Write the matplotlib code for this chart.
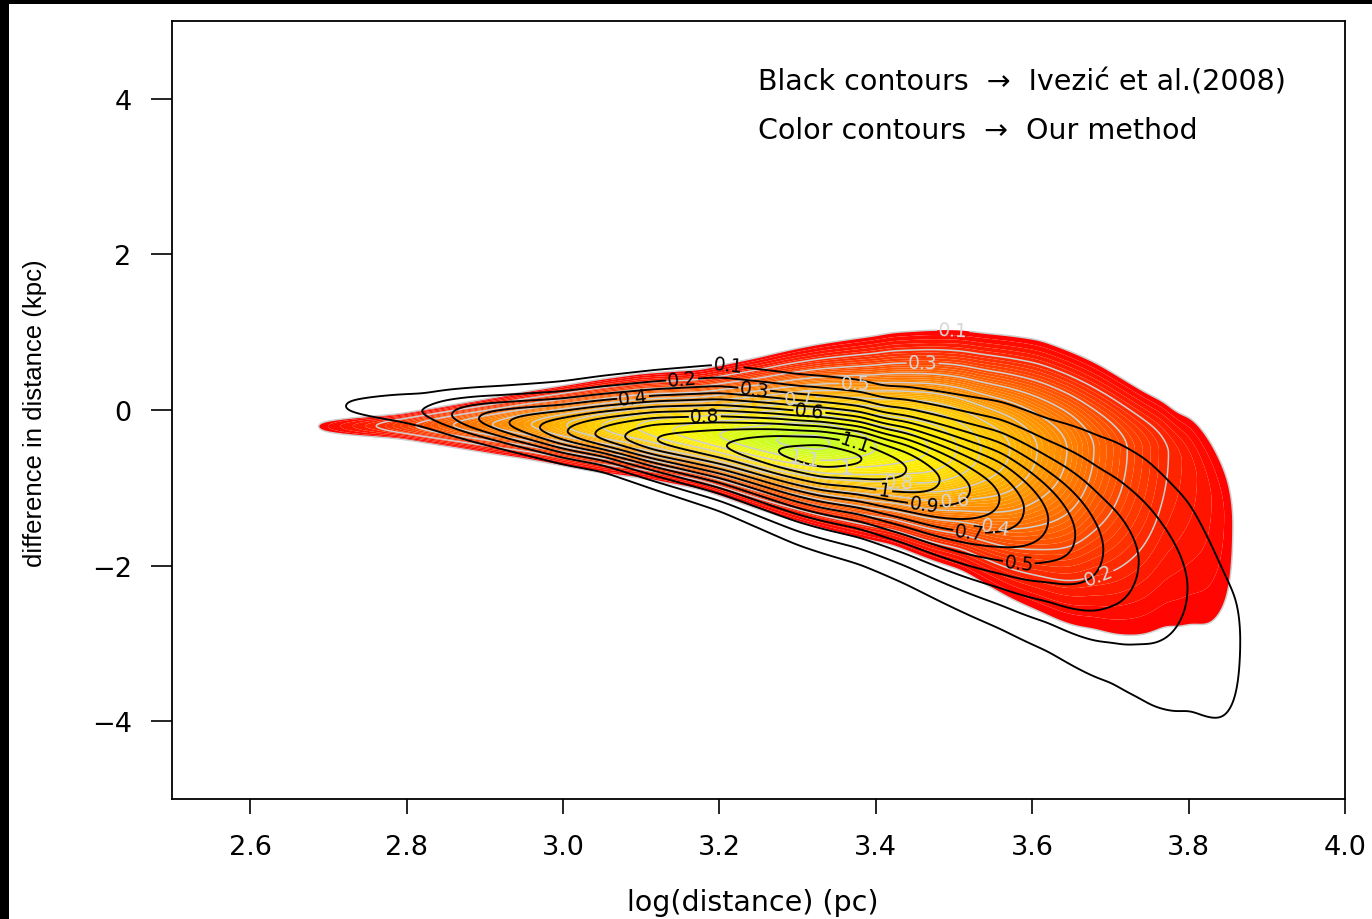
import numpy as np
import matplotlib
matplotlib.use("Agg")
import matplotlib.pyplot as plt
from matplotlib.colors import LinearSegmentedColormap, Normalize
from matplotlib.patches import Rectangle

# ---- Ivezic et al. (2008) density: ridge profile (black contours) ----
ive_amp_x = [2.680, 2.719, 2.824, 2.892, 2.971, 3.041, 3.118, 3.211, 3.274, 3.330,
             3.384, 3.440, 3.482, 3.559, 3.620, 3.690, 3.735, 3.798, 3.850, 3.872, 3.885]
ive_amp = [0.00, 0.10, 0.20, 0.40, 0.60, 0.80, 1.00, 1.10, 1.20, 1.25,
           1.20, 1.10, 1.00, 0.80, 0.60, 0.40, 0.30, 0.20, 0.13, 0.10, 0.00]
ive_ctr_x = [2.70, 2.79, 2.85, 2.92, 3.00, 3.10, 3.20, 3.30, 3.38, 3.44, 3.48,
             3.52, 3.56, 3.59, 3.62, 3.65, 3.69, 3.74, 3.80, 3.85, 3.90]
ive_ctr = [0.06, 0.02, -0.05, -0.15, -0.27, -0.36, -0.45, -0.55, -0.62, -0.76, -0.89,
           -1.02, -1.14, -1.27, -1.40, -1.57, -1.80, -1.95, -2.26, -2.95, -3.00]
ive_wid_x = [2.70, 2.79, 2.92, 3.05, 3.20, 3.30, 3.41, 3.53, 3.62, 3.70, 3.75, 3.79, 3.85, 3.90]
ive_wid_up = [0.22, 0.25, 0.37, 0.52, 0.67, 0.64, 0.64, 0.82, 0.96, 1.26, 1.32, 1.30, 1.40, 1.40]
ive_wid_dn = [0.20, 0.23, 0.28, 0.33, 0.55, 0.75, 0.91, 1.11, 1.27, 1.44, 1.77, 1.92, 1.90, 1.90]

# ---- our method density: ridge profile (colour contours) ----
our_amp_x = [2.660, 2.683, 2.763, 2.860, 2.960, 3.050, 3.140, 3.200, 3.280, 3.330, 3.400,
             3.470, 3.504, 3.533, 3.572, 3.606, 3.645, 3.678, 3.721, 3.772, 3.830, 3.862, 3.880]
our_amp = [0.00, 0.10, 0.20, 0.40, 0.60, 0.80, 1.00, 1.10, 1.21, 1.22, 1.10,
           1.00, 0.90, 0.80, 0.70, 0.60, 0.50, 0.40, 0.30, 0.20, 0.14, 0.10, 0.00]
our_ctr_x = [2.68, 2.79, 2.95, 3.10, 3.25, 3.40, 3.55, 3.70, 3.77, 3.80, 3.83, 3.87]
our_ctr = [-0.21, -0.20, -0.18, -0.22, -0.37, -0.48, -0.50, -0.50, -0.52, -0.70, -1.20, -1.60]
our_wid_x = [2.68, 2.79, 2.92, 3.05, 3.175, 3.30, 3.42, 3.51, 3.61, 3.68, 3.75, 3.79, 3.83, 3.87]
our_wid_up = [0.15, 0.154, 0.28, 0.42, 0.53, 0.76, 0.96, 1.03, 1.05, 0.95, 0.75, 0.72, 1.30, 1.40]
our_wid_dn = [0.17, 0.174, 0.31, 0.42, 0.47, 0.65, 0.81, 1.06, 1.57, 1.97, 2.49, 2.80, 2.67, 2.60]

levels = [0.1, 0.2, 0.3, 0.4, 0.5, 0.6, 0.7, 0.8, 0.9, 1.0, 1.1, 1.2]

# label anchor points (log distance, difference) per contour level
ive_labels = {0.1: (3.211, 0.58), 0.2: (3.154, 0.27), 0.3: (3.242, 0.14),
              0.4: (3.092, 0.03), 0.6: (3.313, -0.17), 0.8: (3.182, -0.22),
              1.1: (3.371, -0.48), 1.0: (3.412, -0.98), 0.9: (3.463, -1.14),
              0.7: (3.521, -1.47), 0.5: (3.585, -1.85)}
our_labels = {0.1: (3.499, 1.02), 0.3: (3.46, 0.50), 0.5: (3.374, 0.24),
              0.7: (3.303, 0.10), 1.1: (3.312, -0.50), 1.0: (3.363, -0.63),
              0.8: (3.431, -0.76), 0.6: (3.499, -0.99), 0.4: (3.559, -1.27),
              0.2: (3.678, -1.98)}

# fill colour for each density level
fill_color_levels = [0.10, 0.20, 0.40, 0.60, 0.80, 1.00, 1.20, 1.25]
fill_colors = ["#FF0000", "#FF2800", "#FF6A00", "#FFA000", "#FFD200", "#FFF200",
               "#C8FF28", "#C0FF30"]

x_ticks = [2.6, 2.8, 3.0, 3.2, 3.4, 3.6, 3.8, 4.0]
y_ticks = [-4, -2, 0, 2, 4]

gx = np.linspace(2.60, 3.95, 900)
gy = np.linspace(-4.6, 1.6, 800)


def smooth(v, sigma_pts=6):
    k = np.arange(-4 * sigma_pts, 4 * sigma_pts + 1)
    w = np.exp(-0.5 * (k / sigma_pts) ** 2)
    w /= w.sum()
    pad = len(k) // 2
    vp = np.concatenate([np.full(pad, v[0]), v, np.full(pad, v[-1])])
    return np.convolve(vp, w, mode="valid")


def ridge_density(ax_, a_, cx_, c_, sx_, su_, sd_):
    amp = smooth(np.interp(gx, ax_, a_, left=0.0, right=0.0))
    ctr = smooth(np.interp(gx, cx_, c_))
    su = smooth(np.interp(gx, sx_, su_))
    sd = smooth(np.interp(gx, sx_, sd_))
    Y = gy[:, None]
    s = np.where(Y > ctr[None, :], su[None, :], sd[None, :])
    return amp[None, :] * np.exp(-((Y - ctr[None, :]) / s) ** 2)


dens_ive = ridge_density(ive_amp_x, ive_amp, ive_ctr_x, ive_ctr, ive_wid_x, ive_wid_up, ive_wid_dn)
dens_our = ridge_density(our_amp_x, our_amp, our_ctr_x, our_ctr, our_wid_x, our_wid_up, our_wid_dn)


def fmt(v):
    return f"{v:g}"


def labelled_contours(ax, dens, label_pos, line_color, text_color, lw):
    for lev in levels:
        cs = ax.contour(gx, gy, dens, levels=[lev], colors=line_color, linewidths=lw)
        if lev in label_pos:
            ax.clabel(cs, manual=[label_pos[lev]], fmt=fmt, inline=True,
                      inline_spacing=3, fontsize=13.5, colors=text_color)


fig = plt.figure(figsize=(13.72, 9.2), dpi=100)
fig.patch.set_facecolor("white")
plt.rcParams["font.family"] = ["DejaVu Sans"]
ax = fig.add_axes([172 / 1372, 1 - 800 / 920, (1345 - 172) / 1372, (800 - 22) / 920])

lo, hi = fill_color_levels[0], fill_color_levels[-1]
heat = LinearSegmentedColormap.from_list(
    "heat", [((v - lo) / (hi - lo), c) for v, c in zip(fill_color_levels, fill_colors)])
fill_levels = np.linspace(0.1, 1.3, 61)
ax.contourf(gx, gy, dens_our, levels=fill_levels, cmap=heat,
            norm=Normalize(lo, hi), antialiased=True)

labelled_contours(ax, dens_our, our_labels, "#cfcfcf", "#d6d6d6", 1.1)
labelled_contours(ax, dens_ive, ive_labels, "black", "black", 1.35)

ax.set_xlim(2.5, 4.0)
ax.set_ylim(-5, 5)
ax.set_xticks(x_ticks)
ax.set_xticklabels([f"{t:.1f}" for t in x_ticks])
ax.set_yticks(y_ticks)
ax.set_yticklabels(["\u22124", "\u22122", "0", "2", "4"])
for sp in ax.spines.values():
    sp.set_linewidth(1.3)
ax.tick_params(axis="x", direction="out", length=11, width=1.2, pad=14, labelsize=19.5)
ax.tick_params(axis="y", direction="out", length=15, width=1.2, pad=14, labelsize=19.5)

fig.text(753 / 1372, 1 - 911 / 920, "log(distance) (pc)", ha="center",
         va="baseline", fontsize=20.5)
fig.text(35 / 1372, 1 - 413 / 920, "difference in distance (kpc)", rotation=90,
         ha="center", va="center", fontsize=18.5, family=["Liberation Sans", "DejaVu Sans"])

fig.text(758 / 1372, 1 - 83 / 920, "Black contours  \u2192  Ivezi\u0107 et al.(2008)",
         ha="left", va="center", fontsize=20.5)
fig.text(758 / 1372, 1 - 131 / 920, "Color contours  \u2192  Our method",
         ha="left", va="center", fontsize=20.5)

# black strips along the top and left edges of the canvas
fig.patches.append(Rectangle((0, 1 - 5 / 920), 1, 5 / 920, transform=fig.transFigure,
                             facecolor="black", edgecolor="none"))
fig.patches.append(Rectangle((0, 0), 9 / 1372, 1, transform=fig.transFigure,
                             facecolor="black", edgecolor="none"))

fig.savefig("out.png", dpi=100)
